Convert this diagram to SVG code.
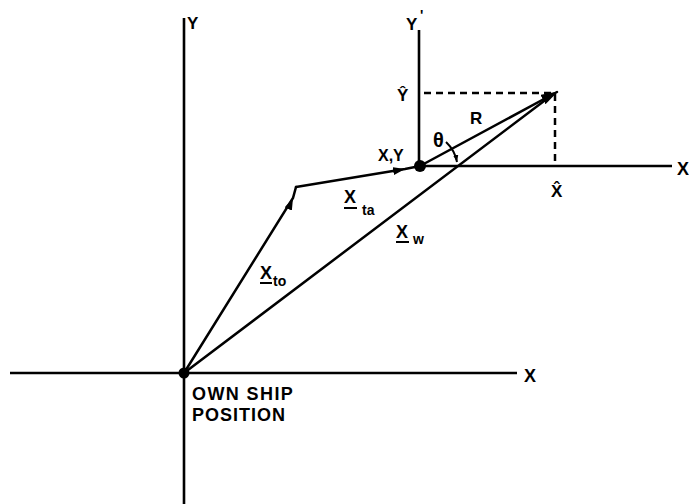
<svg xmlns="http://www.w3.org/2000/svg" width="689" height="504" viewBox="0 0 689 504">
<style>
.ln{stroke:#000;stroke-width:2.5;fill:none;stroke-linecap:round}
.ax{stroke:#000;stroke-width:2.6;fill:none}
.ds{stroke:#000;stroke-width:2.5;fill:none;stroke-dasharray:7 5}
.t{font-family:"Liberation Sans",Arial,sans-serif;font-weight:bold;fill:#000}
</style>
<defs>
<marker id="mid" viewBox="0 0 12 8" refX="12" refY="4" markerWidth="12" markerHeight="8" markerUnits="userSpaceOnUse" orient="auto">
<path d="M0,0 L12,4 L0,8 z" fill="#000"/>
</marker>
<marker id="big" viewBox="0 0 16 10" refX="15" refY="5" markerWidth="17" markerHeight="11" markerUnits="userSpaceOnUse" orient="auto">
<path d="M0,0 L16,5 L0,10 z" fill="#000"/>
</marker>
<marker id="sm" viewBox="0 0 8 6" refX="8" refY="3" markerWidth="7" markerHeight="6" markerUnits="userSpaceOnUse" orient="auto">
<path d="M0,0 L8,3 L0,6 z" fill="#000"/>
</marker>
</defs>

<g id="axes">
<line class="ax" x1="184" y1="18" x2="184" y2="504"/>
<line class="ax" x1="10" y1="373" x2="517" y2="373"/>
<line class="ax" x1="419" y1="30" x2="419" y2="166"/>
<line class="ax" x1="420" y1="166" x2="672" y2="166"/>
<text class="t" x="187" y="29" font-size="17">Y</text>
<text class="t" x="524" y="382" font-size="18">X</text>
<text class="t" x="677" y="175" font-size="18">X</text>
<text class="t" x="406" y="30" font-size="17">Y</text>
<text class="t" x="420" y="20" font-size="14">'</text>
</g>

<g id="connectors">
<polyline class="ln" points="184,373 293,198 296,187" marker-mid="url(#mid)"/>
<polyline class="ln" points="296,187 405,169 420,166" marker-mid="url(#mid)"/>
<line class="ln" x1="184" y1="373" x2="552" y2="95"/>
<line class="ln" x1="420" y1="166" x2="557" y2="92" marker-end="url(#big)"/>
<path class="ds" d="M424,93 H555 V166"/>
<path d="M446,142 A37 37 0 0 1 457,162" fill="none" stroke="#000" stroke-width="2" marker-end="url(#sm)"/>
</g>

<g id="origin">
<circle cx="184" cy="373" r="5.5" fill="#000"/>
<text class="t" x="192" y="400" font-size="18" letter-spacing="1.4">OWN SHIP</text>
<text class="t" x="192" y="421" font-size="18" letter-spacing="1">POSITION</text>
</g>

<g id="target">
<circle cx="420" cy="166" r="6" fill="#000"/>
<text class="t" x="378" y="161" font-size="16">X,Y</text>
</g>

<g id="labels">
<text class="t" x="397" y="101" font-size="17">Ŷ</text>
<text class="t" x="551" y="197" font-size="17">X̂</text>
<text class="t" x="470" y="124" font-size="17">R</text>
<text class="t" x="433" y="147" font-size="20">θ</text>
<text class="t" x="260" y="279" font-size="18">X</text>
<line x1="260" y1="283" x2="272" y2="283" stroke="#000" stroke-width="2"/>
<text class="t" x="273" y="286" font-size="14">to</text>
<text class="t" x="344" y="203" font-size="18">X</text>
<line x1="344" y1="208" x2="357" y2="208" stroke="#000" stroke-width="2"/>
<text class="t" x="362" y="215" font-size="14">ta</text>
<text class="t" x="396" y="238" font-size="18">X</text>
<line x1="396" y1="242" x2="409" y2="242" stroke="#000" stroke-width="2"/>
<text class="t" x="413" y="244" font-size="14">w</text>
</g>
</svg>
